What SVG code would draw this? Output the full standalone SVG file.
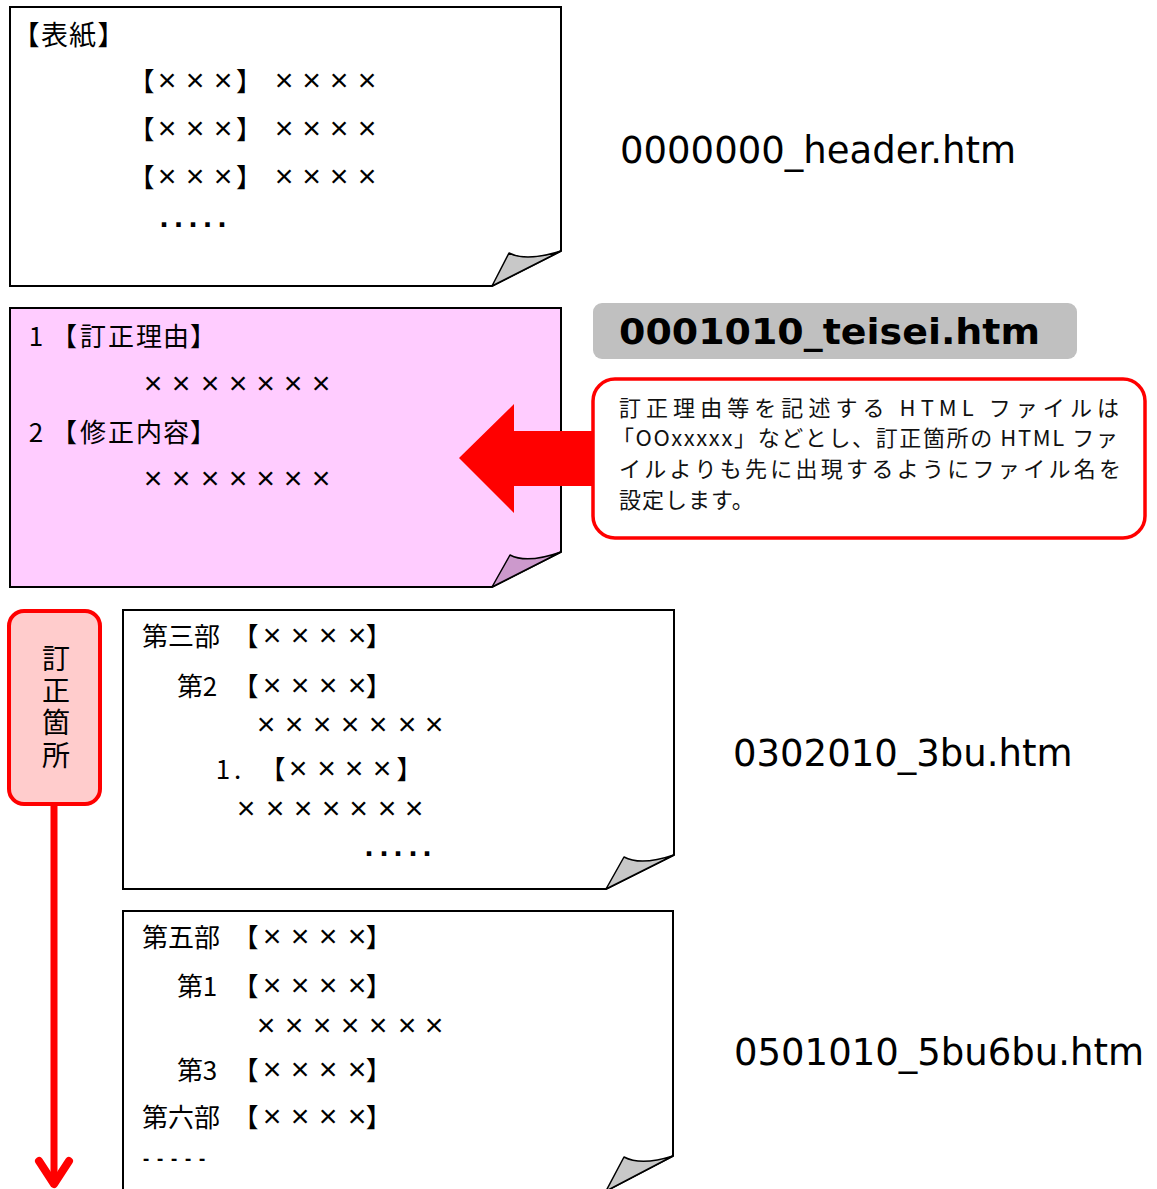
<svg xmlns="http://www.w3.org/2000/svg" width="1157" height="1189" viewBox="0 0 1157 1189">
<style>
.page{stroke:#000;stroke-width:2;stroke-linejoin:miter}
.fold{stroke:#000;stroke-width:1.5;stroke-linejoin:round}
.t{font-family:"Noto Sans CJK JP","Noto Sans CJK SC",sans-serif;font-size:26px;fill:#000;text-anchor:middle}
.x{font-family:"Liberation Sans","DejaVu Sans",sans-serif;font-size:32px}
.dots{font-family:"DejaVu Sans",sans-serif;font-weight:bold;font-size:25px;fill:#000;text-anchor:middle}
.dash{font-family:"DejaVu Sans",sans-serif;font-size:16px;font-weight:bold;fill:#000;text-anchor:middle}
.fn{font-family:"DejaVu Sans","Liberation Sans",sans-serif;font-size:37px;fill:#000}
.fnb{font-family:"DejaVu Sans","Liberation Sans",sans-serif;font-size:35px;font-weight:bold;fill:#000}
.co{font-family:"Noto Sans CJK JP","Noto Sans CJK SC",sans-serif;font-size:22px;fill:#111}
.vt{font-family:"Noto Sans CJK JP","Noto Sans CJK SC",sans-serif;font-size:28px;fill:#000;writing-mode:vertical-rl;letter-spacing:4.3px}
</style>
<defs>
<marker id="openArrow" viewBox="-30 -20 36 40" refX="0" refY="0" markerWidth="36" markerHeight="40" markerUnits="userSpaceOnUse" orient="auto" overflow="visible">
<path d="M-23,-15 L0,0 L-23,15" fill="none" stroke="#ff0000" stroke-width="8" stroke-linecap="round" stroke-linejoin="round"/>
</marker>
</defs>
<rect width="1157" height="1189" fill="#fff"/>

<g id="node-header">
<path class="page" d="M10,7 H561 V251 L492,286 H10 Z" fill="#fff"/>
<path class="fold" d="M492,286 L509,253 Q526,262 561,251 Z" fill="#c8c8c8"/>
<text class="t" x="26 54.5 82.5 111" y="45" style="font-size:27px">【表紙】</text>
<text class="t" x="141.5 167 195 223 249 266 284 311.5 339 367" y="91">【<tspan class="x">×××</tspan>】 <tspan class="x">××××</tspan></text>
<text class="t" x="141.5 167 195 223 249 266 284 311.5 339 367" y="139">【<tspan class="x">×××</tspan>】 <tspan class="x">××××</tspan></text>
<text class="t" x="141.5 167 195 223 249 266 284 311.5 339 367" y="187">【<tspan class="x">×××</tspan>】 <tspan class="x">××××</tspan></text>
<text class="dots" x="164 178.5 193 207.5 222" y="227">.....</text>
</g>
<g id="file-header">
<text class="fn" x="620" y="163">0000000_header.htm</text>
</g>

<g id="node-teisei">
<path class="page" d="M10,308 H561 V552 L492,587 H10 Z" fill="#ffccff"/>
<path class="fold" d="M492,587 L510,555 Q527,564 561,552 Z" fill="#cc99cc"/>
<text class="t" x="36 50 64 93 121 149 176 203" y="346">1 【訂正理由】</text>
<text class="t x" x="153 181 210 238 265.6 293 321" y="394">×××××××</text>
<text class="t" x="36 50 64 93 121 149 176 203" y="442">2 【修正内容】</text>
<text class="t x" x="153 181 210 238 265.6 293 321" y="489">×××××××</text>
</g>

<g id="connectors">
<polygon points="459,458 514,404 514,431 600,431 600,486 514,486 514,513" fill="#ff0000"/>
<path d="M54,804 V1184" fill="none" stroke="#ff0000" stroke-width="7" marker-end="url(#openArrow)"/>
</g>

<g id="file-teisei">
<rect x="593" y="303" width="484" height="56" rx="9" ry="9" fill="#c0c0c0"/>
<text class="fnb" x="619" y="344" textLength="421" lengthAdjust="spacingAndGlyphs">0001010_teisei.htm</text>
</g>

<g id="callout">
<rect x="593" y="379" width="552" height="159" rx="22" ry="22" fill="#fff" stroke="#ff0000" stroke-width="3.5"/>
<text class="co" x="619" y="416" textLength="500" lengthAdjust="spacing">訂正理由等を記述する HTML ファイルは</text>
<text class="co" x="612" y="446" textLength="506" lengthAdjust="spacing">「OOxxxxx」などとし、訂正箇所の HTML ファ</text>
<text class="co" x="619" y="477" textLength="502" lengthAdjust="spacing">イルよりも先に出現するようにファイル名を</text>
<text class="co" x="619" y="508" style="letter-spacing:1px">設定します。</text>
</g>

<g id="label-teisei-kasho">
<rect x="9" y="611" width="91" height="193" rx="15" ry="15" fill="#ffcccc" stroke="#ff0000" stroke-width="4"/>
<text class="vt" x="56" y="644">訂正箇所</text>
</g>

<g id="node-3bu">
<path class="page" d="M123,610 H674 V855 L606,889 H123 Z" fill="#fff"/>
<path class="fold" d="M606,889 L624,857 Q641,866 674,855 Z" fill="#c8c8c8"/>
<text class="t" x="155 181 207 226 245.5 272 300 328 357 378.7" y="646">第三部 【<tspan class="x">××××</tspan>】</text>
<text class="t" x="190 210 228 245.5 272 300 328 357 378.7" y="696">第2 【<tspan class="x">××××</tspan>】</text>
<text class="t x" x="266 294 322 350 378 407 434" y="735">×××××××</text>
<text class="t" x="223 237.6 255 272.5 298 326.5 354 382 409.5" y="779">1. 【<tspan class="x">××××</tspan>】</text>
<text class="t x" x="246 275 303 331 358.5 387 414" y="819">×××××××</text>
<text class="dots" x="369 384 398 413 427" y="856">.....</text>
</g>
<g id="file-3bu">
<text class="fn" x="733" y="766">0302010_3bu.htm</text>
</g>

<g id="node-5bu6bu">
<path class="page" d="M123,911 H673 V1156 L606,1191 H123 Z" fill="#fff"/>
<path class="fold" d="M606,1191 L624,1157 Q641,1166 673,1156 Z" fill="#c8c8c8"/>
<text class="t" x="155 181 207 226 245.5 272 300 328 357 378.7" y="947">第五部 【<tspan class="x">××××</tspan>】</text>
<text class="t" x="190 210 228 245.5 272 300 328 357 378.7" y="996">第1 【<tspan class="x">××××</tspan>】</text>
<text class="t x" x="266 294 322 350 378 407 434" y="1036">×××××××</text>
<text class="t" x="190 210 228 245.5 272 300 328 357 378.7" y="1080">第3 【<tspan class="x">××××</tspan>】</text>
<text class="t" x="155 181 207 226 245.5 272 300 328 357 378.7" y="1127">第六部 【<tspan class="x">××××</tspan>】</text>
<text class="dash" x="146 160 174 188 202" y="1164">-----</text>
</g>
<g id="file-5bu6bu">
<text class="fn" x="734" y="1065">0501010_5bu6bu.htm</text>
</g>
</svg>
